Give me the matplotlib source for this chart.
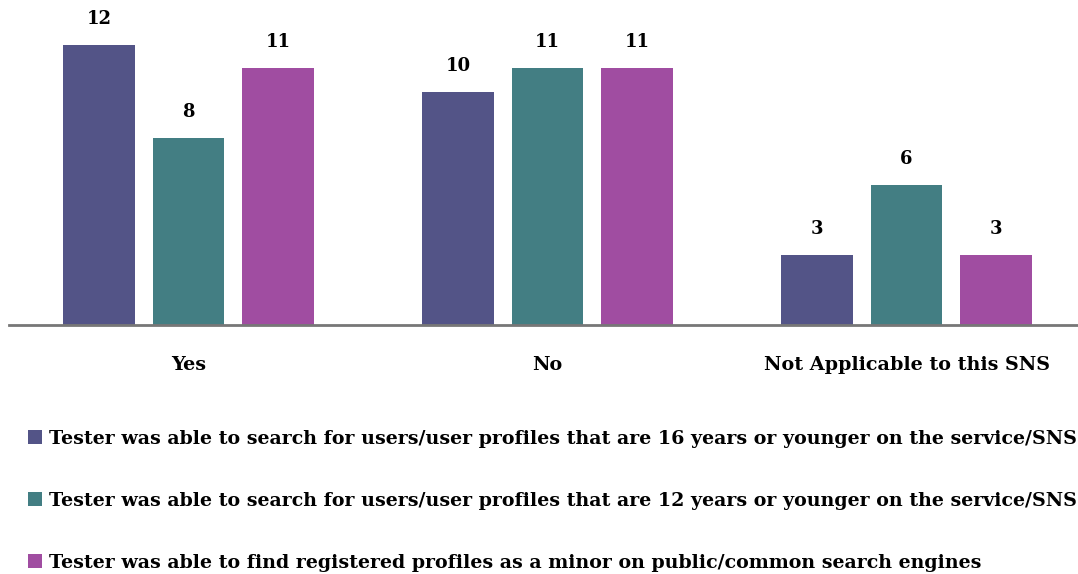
import matplotlib.pyplot as plt
import numpy as np

categories = ['Yes', 'No', 'Not Applicable to this SNS']
series_labels = [
    'Tester was able to search for users/user profiles that are 16 years or younger on the service/SNS',
    'Tester was able to search for users/user profiles that are 12 years or younger on the service/SNS',
    'Tester was able to find registered profiles as a minor on public/common search engines',
]
under16 = [12, 10, 3]
under12 = [8, 11, 6]
search_engines = [11, 11, 3]

colors = ['#535487', '#437E83', '#A04DA1']

plt.rcParams['font.family'] = ['DejaVu Serif']
plt.rcParams['font.weight'] = 'bold'

W, H = 1078, 574
fig = plt.figure(figsize=(W / 100, H / 100), dpi=100)
# axes spans x 9..1086 px, baseline at y=325 px, top at y=0
ax = fig.add_axes([9 / W, (H - 325) / H, 1077 / W, 325 / H])

x = np.arange(len(categories))
width = 0.2
offset = 0.249
all_series = [under16, under12, search_engines]
handles = []
for i, (vals, col) in enumerate(zip(all_series, colors)):
    bars = ax.bar(x + (i - 1) * offset, vals, width, color=col, label=series_labels[i])
    handles.append(bars)
    for bar, v in zip(bars, vals):
        ax.annotate(f'{v}', (bar.get_x() + bar.get_width() / 2, bar.get_height()),
                    xytext=(0, 26), textcoords='offset pixels',
                    ha='center', va='center', fontsize=13, fontweight='bold')

ax.set_xlim(-0.5, 2.5)
ax.set_ylim(0, 325 / (280 / 12))
ax.set_yticks([])
ax.set_xticks(x)
ax.set_xticklabels(categories, fontsize=13.8, fontweight='bold')
ax.tick_params(axis='x', length=0, pad=22)
for s in ['top', 'right', 'left']:
    ax.spines[s].set_visible(False)
ax.spines['bottom'].set_color('#777777')
ax.spines['bottom'].set_linewidth(2)

# legend text sized so the longest line still fits inside the figure
fig.legend(handles=handles, labels=series_labels, loc='upper left',
           bbox_to_anchor=(28 / W, 1 - 430 / H), frameon=False,
           fontsize=13.65, labelspacing=2.32, handlelength=0.75, handleheight=0.75,
           handletextpad=0.34, borderaxespad=0, borderpad=0)

fig.savefig('out.png', dpi=100)
